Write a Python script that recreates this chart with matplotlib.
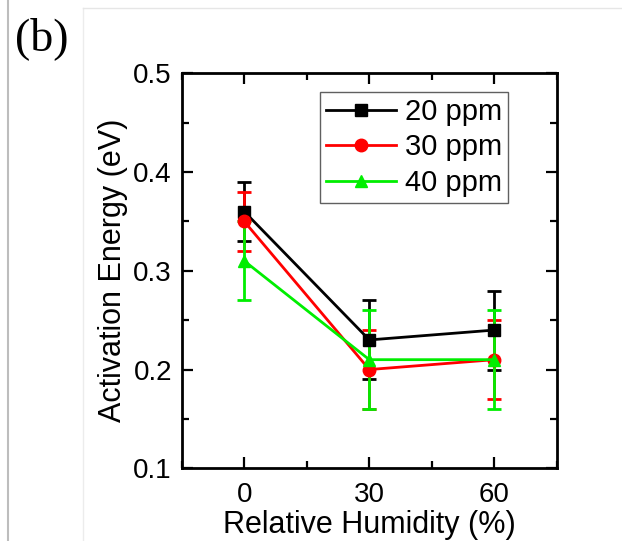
import matplotlib
matplotlib.use("Agg")
import matplotlib.pyplot as plt
from matplotlib.lines import Line2D
from matplotlib.ticker import MultipleLocator, FormatStrFormatter

plt.rcParams['font.family'] = ['Liberation Sans', 'DejaVu Sans']

# Relative humidity (%) and activation energy (eV) for each gas concentration
humidity = [0, 30, 60]
labels = ["20 ppm", "30 ppm", "40 ppm"]
energy_20 = [0.36, 0.23, 0.24]
err_20 = [0.03, 0.04, 0.04]
energy_30 = [0.35, 0.20, 0.21]
err_30 = [0.03, 0.04, 0.04]
energy_40 = [0.31, 0.21, 0.21]
err_40 = [0.04, 0.05, 0.05]

colors = ["black", "#ff0000", "#00ee00"]
markers = ["s", "o", "^"]

fig = plt.figure(figsize=(6.22, 5.41), dpi=100)
ax = fig.add_axes([0.2921, 0.1344, 0.6034, 0.7301])

series = [(energy_20, err_20), (energy_30, err_30), (energy_40, err_40)]
handles = []
for (vals, errs), lab, c, m in zip(series, labels, colors, markers):
    ax.errorbar(humidity, vals, yerr=errs, color=c, marker=m, markersize=9,
                linewidth=2, elinewidth=2, capsize=5, capthick=2)
    handles.append(Line2D([], [], color=c, marker=m, markersize=9,
                          linewidth=2, label=lab))

ax.set_xlim(-15, 75)
ax.set_ylim(0.1, 0.5)
ax.set_xticks(humidity)
ax.xaxis.set_minor_locator(MultipleLocator(15))
ax.yaxis.set_major_locator(MultipleLocator(0.1))
ax.yaxis.set_minor_locator(MultipleLocator(0.05))
ax.yaxis.set_major_formatter(FormatStrFormatter('%.1f'))

ax.tick_params(which='both', direction='in', top=True, right=True, width=1.6)
ax.tick_params(which='major', length=8, labelsize=20, pad=7)
ax.tick_params(axis='x', which='major', pad=10)
ax.tick_params(which='minor', length=5)
for sp in ax.spines.values():
    sp.set_linewidth(2)

ax.set_xlabel("Relative Humidity (%)", fontsize=22, labelpad=1)
ax.set_ylabel("Activation Energy (eV)", fontsize=22, labelpad=4)

leg = ax.legend(handles=handles, loc='upper left', bbox_to_anchor=(0.3685, 0.9527),
                fontsize=21, fancybox=False, framealpha=1, edgecolor='#606060',
                handlelength=2.4, handletextpad=0.3, labelspacing=0.26,
                borderpad=0.2, borderaxespad=0)
leg.get_frame().set_linewidth(1.0)

# panel label and the faint border lines around the panel
fig.text(15 / 622, 1 - 50 / 541, "(b)", fontsize=33, family='Liberation Serif')
fig.add_artist(Line2D([8 / 622, 8 / 622], [0, 1], color='#bdbdbd', linewidth=1.5))
fig.add_artist(Line2D([83 / 622, 83 / 622], [0, 1 - 8 / 541], color='#ececec', linewidth=1))
fig.add_artist(Line2D([83 / 622, 1], [1 - 8 / 541, 1 - 8 / 541], color='#e6e6e6', linewidth=1))

fig.savefig("out.png", dpi=100)
